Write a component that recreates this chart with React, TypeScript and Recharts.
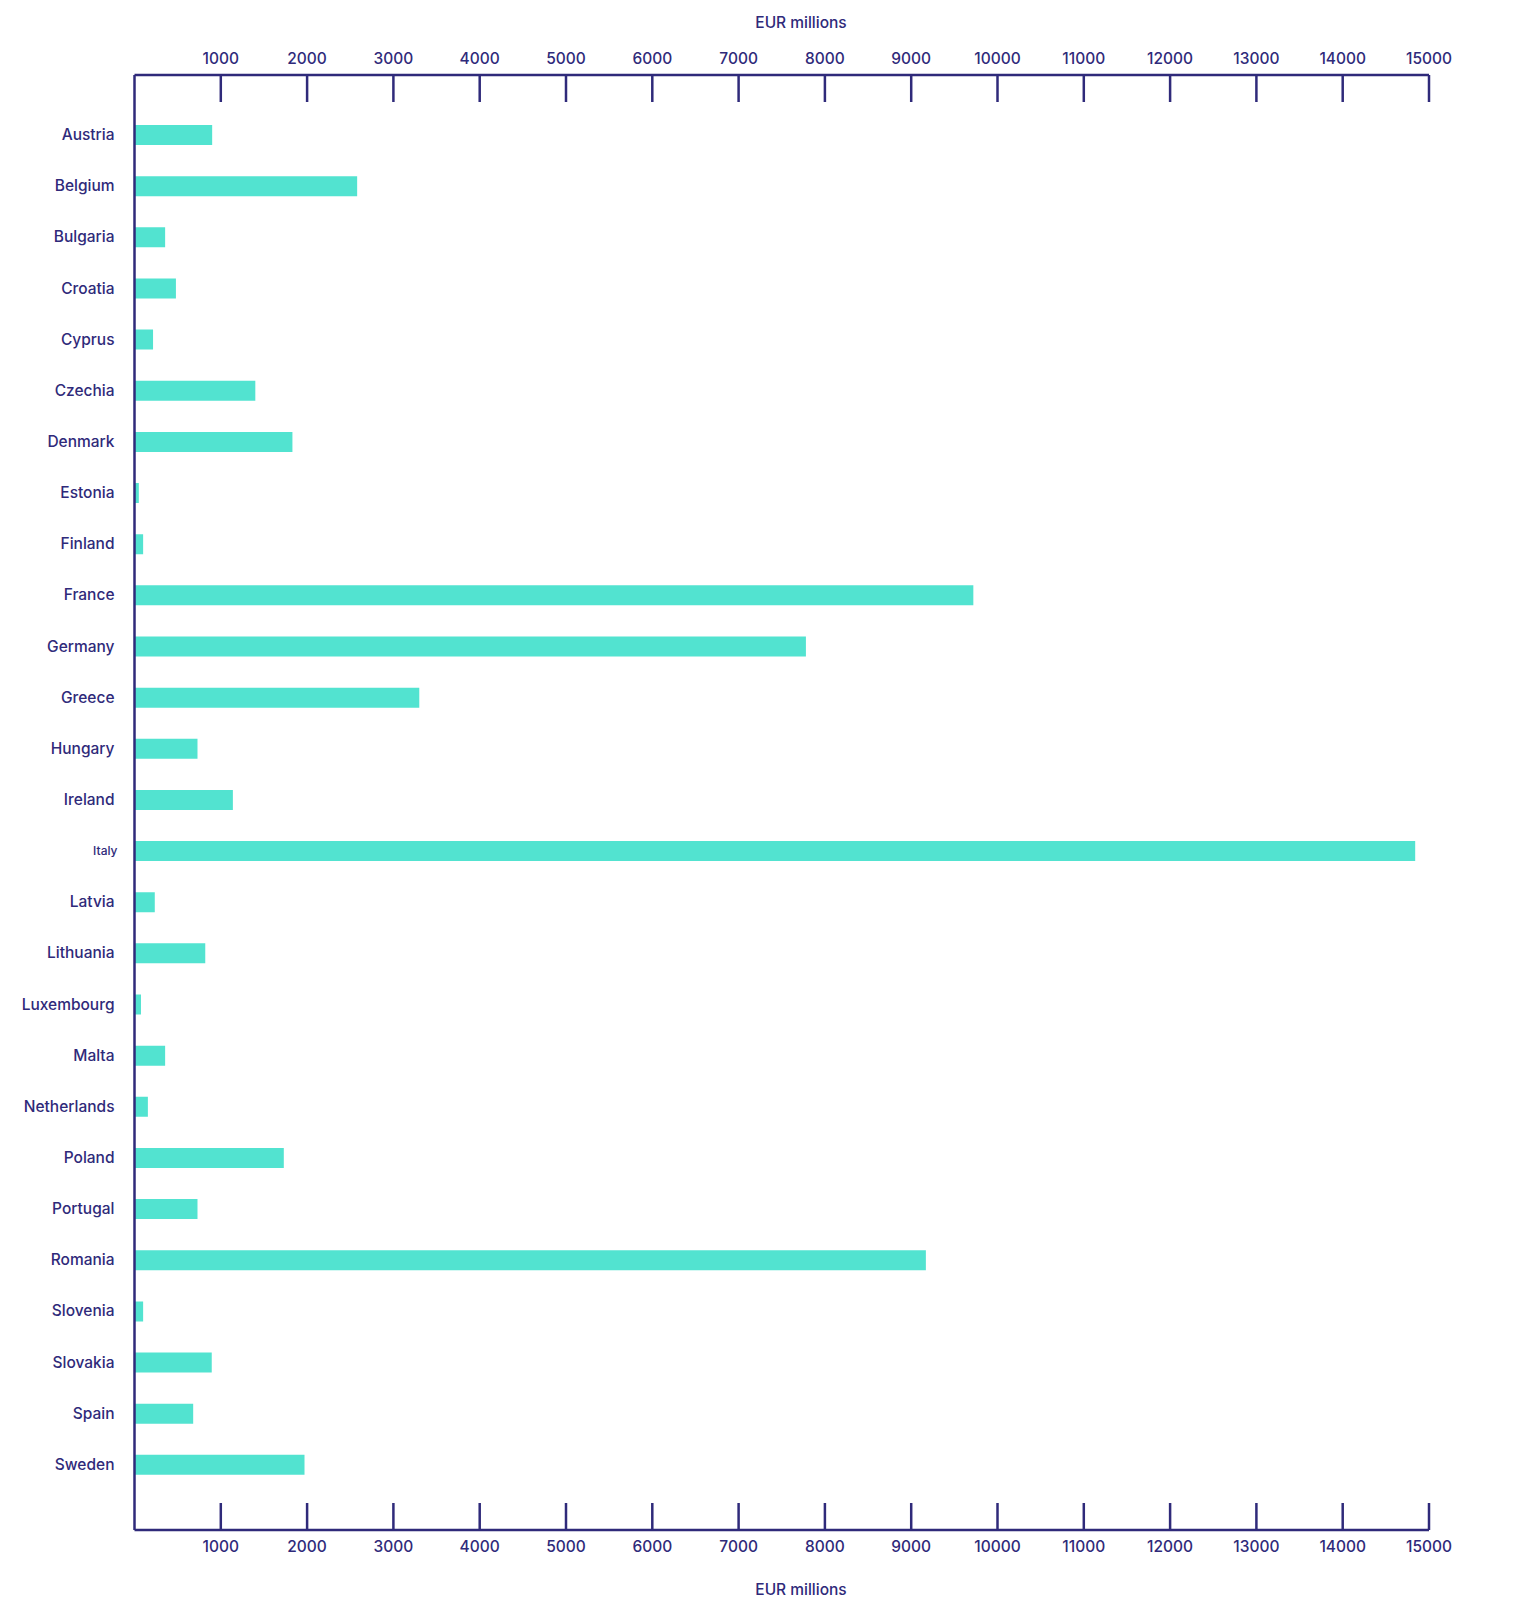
import { Bar, BarChart, XAxis, YAxis } from "recharts";

const countries = [
  "Austria", "Belgium", "Bulgaria", "Croatia", "Cyprus", "Czechia", "Denmark",
  "Estonia", "Finland", "France", "Germany", "Greece", "Hungary", "Ireland",
  "Italy", "Latvia", "Lithuania", "Luxembourg", "Malta", "Netherlands",
  "Poland", "Portugal", "Romania", "Slovenia", "Slovakia", "Spain", "Sweden",
];

const amounts = [
  900, 2580, 355, 480, 215, 1400, 1830,
  50, 100, 9720, 7780, 3300, 730, 1140,
  14840, 235, 820, 75, 355, 155,
  1730, 730, 9170, 100, 895, 680, 1970,
];

const xTicks = [
  1000, 2000, 3000, 4000, 5000, 6000, 7000, 8000,
  9000, 10000, 11000, 12000, 13000, 14000, 15000,
];

const axisTitle = "EUR millions";

const NAVY = "#2f2a7a";
const TEAL = "#52e3d0";
const FONT = "Inter, 'Noto Sans', sans-serif";

const data = countries.map((name, i) => ({ name, value: amounts[i] }));

function TopTick({ x, y, payload }: any) {
  return (
    <g>
      <line x1={x} y1={y} x2={x} y2={y + 27} stroke={NAVY} strokeWidth={2.5} />
      <text x={x} y={y - 11.5} textAnchor="middle" fill={NAVY} fontSize={15.5} fontWeight={500} fontFamily={FONT}>
        {payload.value}
      </text>
    </g>
  );
}

function BottomTick({ x, y, payload }: any) {
  return (
    <g>
      <line x1={x} y1={y} x2={x} y2={y - 27} stroke={NAVY} strokeWidth={2.5} />
      <text x={x} y={y + 21.5} textAnchor="middle" fill={NAVY} fontSize={15.5} fontWeight={500} fontFamily={FONT}>
        {payload.value}
      </text>
    </g>
  );
}

function CountryTick({ x, y, payload }: any) {
  // the source draws "Italy" in a smaller size
  const small = payload.value === "Italy";
  return (
    <text
      x={x - (small ? 17 : 20)}
      y={y}
      dy={small ? 4.5 : 5.5}
      textAnchor="end"
      fill={NAVY}
      fontSize={small ? 12 : 15.5}
      fontWeight={500}
      fontFamily={FONT}
    >
      {payload.value}
    </text>
  );
}

const titleStyle: React.CSSProperties = {
  position: "absolute",
  left: 793,
  transform: "translate(-50%, -50%)",
  color: NAVY,
  fontFamily: FONT,
  fontSize: 15.5,
  fontWeight: 500,
  whiteSpace: "nowrap",
};

export default function App() {
  return (
    <div style={{ position: "relative", width: 1504, height: 1610 }}>
      <div style={{ ...titleStyle, top: 14 }}>{axisTitle}</div>
      <div style={{ ...titleStyle, top: 1581 }}>{axisTitle}</div>
      <BarChart
        width={1504}
        height={1610}
        data={data}
        layout="vertical"
        barSize={20}
        margin={{ top: 37, right: 83, bottom: 58, left: 6.5 }}
      >
        <XAxis
          xAxisId="top"
          orientation="top"
          type="number"
          domain={[0, 15000]}
          allowDataOverflow
          ticks={xTicks}
          interval={0}
          height={30}
          tickSize={0}
          tickMargin={0}
          tickLine={false}
          axisLine={{ stroke: NAVY, strokeWidth: 2.5 }}
          tick={<TopTick />}
        />
        <XAxis
          xAxisId="bottom"
          orientation="bottom"
          type="number"
          domain={[0, 15000]}
          allowDataOverflow
          ticks={xTicks}
          interval={0}
          height={30}
          tickSize={0}
          tickMargin={0}
          tickLine={false}
          axisLine={{ stroke: NAVY, strokeWidth: 2.5 }}
          tick={<BottomTick />}
        />
        <YAxis
          type="category"
          dataKey="name"
          width={120}
          interval={0}
          padding={{ top: 34, bottom: 40 }}
          tickSize={0}
          tickMargin={0}
          tickLine={false}
          axisLine={{ stroke: NAVY, strokeWidth: 2.5 }}
          tick={<CountryTick />}
        />
        <Bar xAxisId="top" dataKey="value" fill={TEAL} isAnimationActive={false} />
      </BarChart>
    </div>
  );
}
